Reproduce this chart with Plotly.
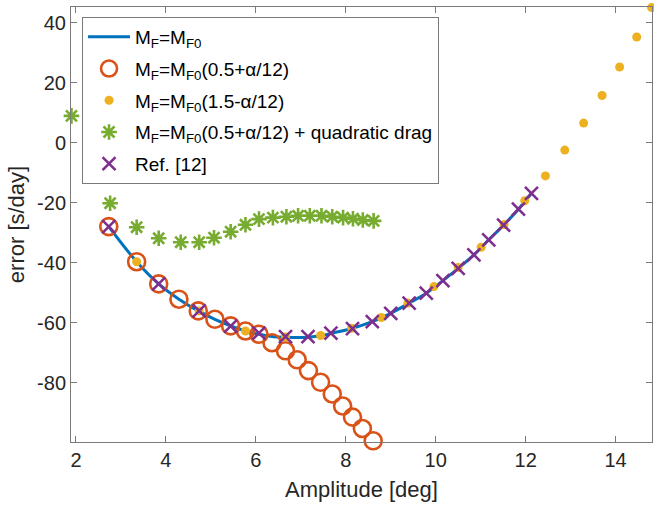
import plotly.graph_objects as go

# ---- data ----
x_line = [2.73, 3.35, 3.84, 4.29, 4.72, 5.09, 5.44, 5.77, 6.07, 6.40, 6.66, 6.95, 7.16, 7.44, 7.67,
          8.15, 8.59, 9.00, 9.41, 9.79, 10.16, 10.50, 10.85, 11.18, 11.51, 11.84, 12.13]
y_line = [-27.9, -39.6, -47.0, -52.1, -56.0, -58.8, -61.0, -62.7, -63.8, -64.6, -64.8, -64.9, -64.8, -64.3, -63.5,
          -61.8, -59.6, -56.8, -53.4, -50.1, -45.9, -41.8, -37.3, -32.3, -27.4, -22.1, -16.8]

x_circ = [2.73, 3.35, 3.84, 4.29, 4.72, 5.09, 5.44, 5.77, 6.07, 6.36, 6.66, 6.92, 7.17, 7.44,
          7.70, 7.93, 8.15, 8.37, 8.61]
y_circ = [-27.9, -39.6, -47.0, -52.1, -56.0, -58.8, -61.0, -62.7, -63.8, -66.6, -69.3, -72.3, -75.9, -79.8,
          -83.7, -87.7, -91.4, -95.2, -99.3]

x_dot = [3.35, 4.74, 5.77, 6.66, 7.44, 8.13, 8.79, 9.38, 9.96, 10.50, 11.01, 11.52, 11.98, 12.44,
         12.87, 13.29, 13.70, 14.09, 14.47, 14.80]
y_dot = [-39.6, -56.0, -62.7, -64.7, -64.2, -61.8, -58.2, -53.4, -47.9, -41.5, -34.8, -27.2, -19.3, -11.0,
         -2.4, 6.6, 15.8, 25.3, 35.3, 45.1]

x_star = [1.90, 2.76, 3.35, 3.84, 4.33, 4.74, 5.07, 5.44, 5.77, 6.07, 6.38, 6.68, 6.94, 7.20, 7.46,
          7.70, 7.94, 8.16, 8.38, 8.62]
y_star = [9.0, -20.1, -28.1, -31.8, -33.1, -33.1, -31.6, -29.6, -27.3, -25.4, -24.9, -24.6, -24.3, -24.3, -24.3,
          -24.6, -24.9, -25.3, -25.7, -26.0]

x_ref = [2.73, 3.84, 4.74, 5.44, 6.07, 6.66, 7.16, 7.67, 8.15, 8.59, 9.00, 9.41, 9.79, 10.16, 10.50,
         10.85, 11.18, 11.51, 11.84, 12.13]
y_ref = [-27.9, -47.0, -56.0, -61.1, -63.4, -64.6, -64.6, -63.4, -61.9, -59.6, -56.8, -53.4, -50.1, -45.9, -41.8,
         -37.3, -32.3, -27.4, -22.1, -16.8]

x_ticks = [2, 4, 6, 8, 10, 12, 14]
y_ticks = [-80, -60, -40, -20, 0, 20, 40]

names = ["M<sub>F</sub>=M<sub>F0</sub>",
         "M<sub>F</sub>=M<sub>F0</sub>(0.5+α/12)",
         "M<sub>F</sub>=M<sub>F0</sub>(1.5-α/12)",
         "M<sub>F</sub>=M<sub>F0</sub>(0.5+α/12) + quadratic drag",
         "Ref. [12]"]

BLUE, ORANGE, YELLOW, GREEN, PURPLE = "#0072BD", "#D95319", "#EDB120", "#77AC30", "#7E2F8E"
FONT = "Liberation Sans, Arial"

fig = go.Figure()
fig.add_trace(go.Scatter(x=x_line, y=y_line, mode="lines", name=names[0], legendgroup="g0",
                         line=dict(color=BLUE, width=3, shape="spline"), cliponaxis=False))
fig.add_trace(go.Scatter(x=x_circ, y=y_circ, mode="markers", name=names[1], legendgroup="g1",
                         marker=dict(symbol="circle-open", size=17, color=ORANGE,
                                     line=dict(color=ORANGE, width=2.6)), cliponaxis=False))
fig.add_trace(go.Scatter(x=x_dot, y=y_dot, mode="markers", name=names[2], legendgroup="g2",
                         marker=dict(symbol="circle", size=9, color=YELLOW, line=dict(width=0)),
                         cliponaxis=False))
fig.add_trace(go.Scatter(x=x_star, y=y_star, mode="markers", name=names[3], legendgroup="g3",
                         marker=dict(symbol="asterisk-open", size=13, color=GREEN,
                                     line=dict(color=GREEN, width=2.6)), cliponaxis=False))
fig.add_trace(go.Scatter(x=x_ref, y=y_ref, mode="markers", name=names[4], legendgroup="g4",
                         marker=dict(symbol="x-thin-open", size=13, color=PURPLE,
                                     line=dict(color=PURPLE, width=2.6)), cliponaxis=False))

axis_common = dict(showgrid=False, zeroline=False, showline=True, linecolor="#7a7a7a", linewidth=1,
                   mirror="ticks", ticks="inside", ticklen=6, tickcolor="#7a7a7a", tickwidth=1,
                   tickfont=dict(family=FONT, size=20, color="#262626"))

fig.update_layout(
    width=654, height=511,
    margin=dict(l=71, r=2, t=7, b=69),
    paper_bgcolor="white", plot_bgcolor="white",
    font=dict(family=FONT, color="#262626"),
    xaxis=dict(range=[1.89, 14.81], tickvals=x_ticks, ticktext=[str(v) for v in x_ticks],
               title=dict(text="Amplitude [deg]", font=dict(size=22, color="#262626"), standoff=11),
               **axis_common),
    yaxis=dict(range=[-99.7, 45.3], tickvals=y_ticks, ticktext=[str(v) for v in y_ticks],
               title=dict(text="error [s/day]", font=dict(size=22, color="#262626"), standoff=6),
               **axis_common),
    legend=dict(x=0.019, y=0.977, xanchor="left", yanchor="top",
                bgcolor="white", bordercolor="#7a7a7a", borderwidth=1,
                font=dict(family=FONT, size=19, color="#000000"),
                tracegroupgap=4, itemwidth=42),
    showlegend=True,
)

fig.write_html("out.html", config={"displayModeBar": False},
               post_script="document.body.style.margin='0px';")
